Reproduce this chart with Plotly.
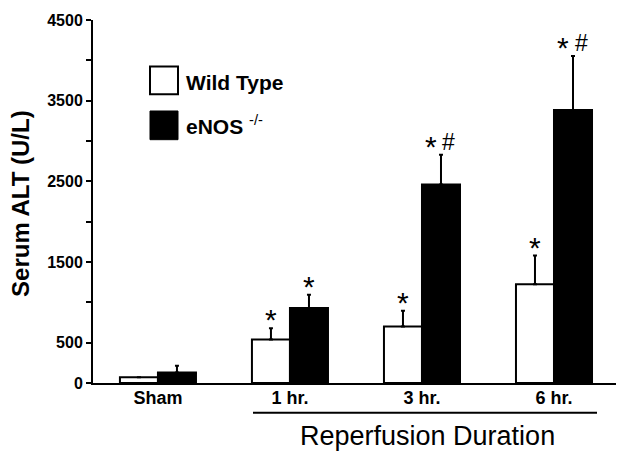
import plotly.graph_objects as go

categories = ["Sham", "1 hr.", "3 hr.", "6 hr."]
wt_values = [70, 540, 700, 1225]
wt_err = [0, 140, 195, 355]
enos_values = [130, 930, 2460, 3385]
enos_err = [85, 165, 370, 670]
wt_marks = ["", "*", "*", "*"]
enos_marks = ["", "*", "* #", "* #"]
y_tickvals = [0, 500, 1500, 2500, 3500, 4500]
y_ticktext = ["0", "500", "1500", "2500", "3500", "4500"]
y_minor_tickvals = [1000, 2000, 3000, 4000]

FONT = "Liberation Sans, Arial, sans-serif"
OFF = 8  # page body margin
W, H = 624 - OFF, 454 - OFF
ML, MR, MT, MB = 93 - OFF, 4, 16 - OFF, 71
PW = W - ML - MR
PH = H - MT - MB

def px(xp):
    return (xp - OFF - ML) / PW

def py(yp):
    return (H - MB - (yp - OFF)) / PH

xpos = list(range(len(categories)))

fig = go.Figure()
fig.add_trace(go.Bar(
    x=xpos, y=wt_values, name="Wild Type",
    marker=dict(color="white", line=dict(color="black", width=2)),
    error_y=dict(type="data", symmetric=False, array=wt_err,
                 arrayminus=[0] * len(wt_err), color="black",
                 thickness=2, width=2),
    showlegend=False,
))
fig.add_trace(go.Bar(
    x=xpos, y=enos_values, name="eNOS -/-",
    marker=dict(color="black", line=dict(color="black", width=2)),
    error_y=dict(type="data", symmetric=False, array=enos_err,
                 arrayminus=[0] * len(enos_err), color="black",
                 thickness=2, width=2),
    showlegend=False,
))

bw = 0.288
annotations = []

def add_marks(xc, ytop, mark):
    tokens = mark.split()
    if not tokens:
        return
    shifts = [0] if len(tokens) == 1 else [-10, 8]
    for tok, xs in zip(tokens, shifts):
        if tok == "*":
            annotations.append(dict(x=xc, y=ytop, xref="x", yref="y", text=tok,
                                    showarrow=False, yanchor="bottom",
                                    xshift=xs, yshift=-10,
                                    font=dict(family=FONT, size=30, color="black")))
        else:
            annotations.append(dict(x=xc, y=ytop, xref="x", yref="y", text=tok,
                                    showarrow=False, yanchor="bottom",
                                    xshift=xs, yshift=-2,
                                    font=dict(family=FONT, size=23, color="black")))

for i in range(len(categories)):
    add_marks(i - bw / 2, wt_values[i] + wt_err[i], wt_marks[i])
    add_marks(i + bw / 2, enos_values[i] + enos_err[i], enos_marks[i])

# y axis title
annotations.append(dict(x=px(21), y=py(202), xref="paper", yref="paper",
                        text="<b>Serum ALT (U/L)</b>", textangle=-90, showarrow=False,
                        xanchor="center", yanchor="middle",
                        font=dict(family=FONT, size=24, color="black")))
# x group title
annotations.append(dict(x=px(427), y=py(437), xref="paper", yref="paper",
                        text="Reperfusion Duration", showarrow=False,
                        xanchor="center", yanchor="middle",
                        font=dict(family=FONT, size=27, color="black")))
# legend text
annotations.append(dict(x=px(184), y=py(79), xref="paper", yref="paper",
                        text="<b>Wild Type</b>", showarrow=False,
                        xanchor="left", yanchor="middle",
                        font=dict(family=FONT, size=21, color="black")))
annotations.append(dict(x=px(184), y=py(122), xref="paper", yref="paper",
                        text="<b>eNOS</b> <sup>-/-</sup>", showarrow=False,
                        xanchor="left", yanchor="middle",
                        font=dict(family=FONT, size=21, color="black")))

shapes = [
    dict(type="rect", xref="paper", yref="paper",
         x0=px(150), x1=px(178), y0=py(91), y1=py(63),
         line=dict(color="black", width=2), fillcolor="white"),
    dict(type="rect", xref="paper", yref="paper",
         x0=px(150), x1=px(178), y0=py(137), y1=py(108),
         line=dict(color="black", width=1), fillcolor="black"),
    dict(type="line", xref="paper", yref="paper",
         x0=px(253), x1=px(597), y0=py(413), y1=py(413),
         line=dict(color="black", width=2)),
]

fig.update_layout(
    width=W, height=H,
    margin=dict(l=ML, r=MR, t=MT, b=MB),
    paper_bgcolor="white", plot_bgcolor="white",
    barmode="group", bargap=0.424, bargroupgap=0,
    showlegend=False,
    annotations=annotations, shapes=shapes,
    font=dict(family=FONT, color="black"),
)
fig.update_xaxes(
    range=[-0.492, 3.5], tickvals=xpos, ticktext=categories,
    showline=True, linecolor="black", linewidth=2, showgrid=False,
    zeroline=False, ticks="", ticklabelstandoff=-3,
    tickfont=dict(family=FONT, size=18, color="black", weight="bold"),
)
fig.update_yaxes(
    range=[0, 4500], tickvals=y_tickvals, ticktext=y_ticktext,
    showline=True, linecolor="black", linewidth=2, showgrid=False,
    zeroline=False, ticks="outside", ticklen=5, tickwidth=2,
    tickcolor="black", ticklabeloverflow="allow",
    tickfont=dict(family=FONT, size=16, color="black", weight="bold"),
    minor=dict(tickmode="array", tickvals=y_minor_tickvals, ticks="outside",
               ticklen=5, tickwidth=2, tickcolor="black", showgrid=False),
)

fig.write_html("out.html")
